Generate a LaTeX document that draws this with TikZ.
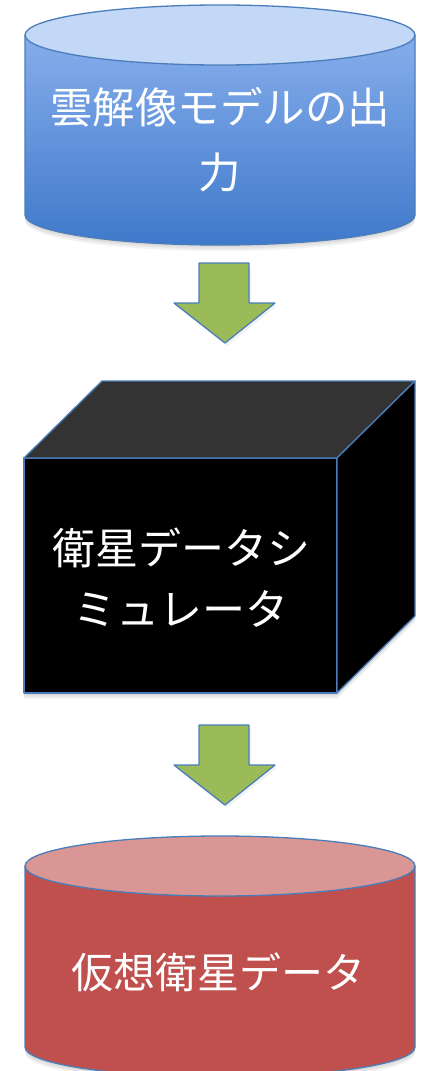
\documentclass[tikz,border=0pt]{standalone}
\usepackage{fontspec}
\newfontfamily\jp{Noto Sans CJK JP}
\definecolor{outl}{HTML}{4A7EBB}
\definecolor{blueell}{HTML}{C3D7F7}
\definecolor{bluetop}{HTML}{90B5F0}
\definecolor{bluebot}{HTML}{3F79CB}
\definecolor{redbody}{HTML}{C0504D}
\definecolor{redell}{HTML}{D99694}
\definecolor{cubetop}{HTML}{333333}
\definecolor{arrgreen}{HTML}{9BBB59}
\tikzset{
  edge/.style={draw=outl, line width=1.3pt, line join=round},
  label/.style={text=white, align=center, inner sep=0pt},
  blockarrow/.style={edge, fill=arrgreen},
  shadowlayer/.style={fill=black, opacity=0.05}
}
\begin{document}
\begin{tikzpicture}[x=1pt,y=-1pt]
\useasboundingbox (0,0) rectangle (424,1071);
\fill[white] (0,0) rectangle (424,1071);
% ---------- top cylinder ----------
\foreach \d in {2,4,6}{
  \fill[shadowlayer] (25,35+\d) -- (25,215+\d) arc[start angle=180,end angle=0,x radius=195,y radius=30] -- (415,35+\d) -- cycle;
}
\shade[top color=bluetop, bottom color=bluebot] (25,35) -- (25,215) arc[start angle=180,end angle=0,x radius=195,y radius=30] -- (415,35) arc[start angle=0,end angle=-180,x radius=195,y radius=30] -- cycle;
\draw[edge] (25,35) -- (25,215) arc[start angle=180,end angle=0,x radius=195,y radius=30] -- (415,35);
\filldraw[edge, fill=blueell] (220,35) ellipse[x radius=195, y radius=30];
\node[label, font=\jp\fontsize{42.5}{65}\selectfont] (cloud) at (220,140) {雲解像モデルの出\\力};
% ---------- arrow 1 ----------
\fill[shadowlayer] (201,266) -- (251,266) -- (251,306) -- (277,306) -- (227,346) -- (176,306) -- (201,306) -- cycle;
\draw[blockarrow] (199,263) -- (249,263) -- (249,303) -- (275,303) -- (225,343) -- (174,303) -- (199,303) -- cycle;
% ---------- cube ----------
\foreach \d in {2,4,6}{
  \fill[shadowlayer] (24,458+\d) -- (102,381+\d) -- (415,381+\d) -- (415,616+\d) -- (337,693+\d) -- (24,693+\d) -- cycle;
}
\filldraw[edge, fill=black] (24,458) rectangle (337,693);
\filldraw[edge, fill=cubetop] (24,458) -- (102,381) -- (415,381) -- (337,458) -- cycle;
\filldraw[edge, fill=black] (337,458) -- (415,381) -- (415,616) -- (337,693) -- cycle;
\node[label, font=\jp\fontsize{43}{61}\selectfont] (sim) at (181,578) {衛星データシ\\ミュレータ};
% ---------- arrow 2 ----------
\fill[shadowlayer] (201,728) -- (251,728) -- (251,768) -- (277,768) -- (227,808) -- (176,768) -- (201,768) -- cycle;
\draw[blockarrow] (199,725) -- (249,725) -- (249,765) -- (275,765) -- (225,805) -- (174,765) -- (199,765) -- cycle;
% ---------- bottom cylinder ----------
\foreach \d in {2,4,6}{
  \fill[shadowlayer] (25,866+\d) -- (25,1047+\d) arc[start angle=180,end angle=0,x radius=195,y radius=30] -- (415,866+\d) -- cycle;
}
\fill[redbody] (25,866) -- (25,1047) arc[start angle=180,end angle=0,x radius=195,y radius=30] -- (415,866) arc[start angle=0,end angle=-180,x radius=195,y radius=30] -- cycle;
\draw[edge] (25,866) -- (25,1047) arc[start angle=180,end angle=0,x radius=195,y radius=30] -- (415,866);
\filldraw[edge, fill=redell] (220,866) ellipse[x radius=195, y radius=30];
\node[label, font=\jp\fontsize{42}{60}\selectfont] (virt) at (218,972) {仮想衛星データ};
\end{tikzpicture}
\end{document}
